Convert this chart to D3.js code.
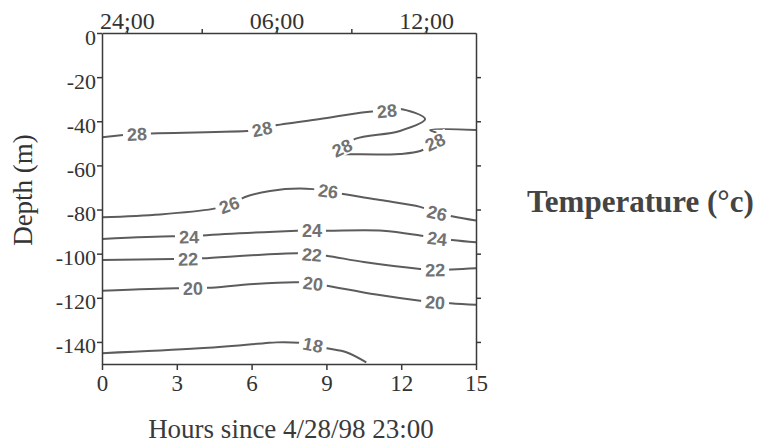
<!DOCTYPE html>
<html><head><meta charset="utf-8">
<script src="https://cdn.jsdelivr.net/npm/d3@7/dist/d3.min.js"></script>
<style>body{margin:0;background:#fff}svg{display:block}</style>
</head><body>
<svg id="chart" width="757" height="448"></svg>
<script>
// ---- data ----
const hourTicks = [0, 3, 6, 9, 12, 15];
const depthTicks = [0, -20, -40, -60, -80, -100, -120, -140];
const clockTickHours = [1, 4, 7, 10, 13];
const clockTickLabels = ["24;00", "", "06;00", "", "12;00"];
const contourLevels = [28, 26, 24, 22, 20, 18];

// contour polylines: [hour, depth]
const contour28 = [[0,-47.3],[1.4,-45.8],[5.94,-44.3],[6.42,-43.5],[6.86,-42.1],[8.74,-39],[10.63,-35.8],[11.43,-35.3],[11.95,-34.4],[12.96,-39],[11.95,-44.4],[10.15,-48],[9.63,-52.1],[9.15,-54.4],[10.35,-55],[11.95,-54.8],[12.76,-53.5],[13.36,-49.4],[13.48,-45.8],[13.16,-44],[15,-44]];
const contour26 = [[0,-83.5],[2.33,-82.2],[4.45,-79.7],[5.1,-77.9],[5.74,-74.3],[6.74,-71.6],[7.94,-70.5],[9.07,-71.6],[9.67,-73],[11.15,-75.7],[12.76,-78.8],[13.44,-81.6],[15,-85]];
const contour24 = [[0,-93.3],[2.85,-92.1],[3.49,-92.4],[4.01,-91.8],[7.82,-89.6],[8.42,-89.4],[8.94,-89.6],[11.27,-89.6],[12.76,-91.8],[13.44,-93.1],[15,-94.8]];
const contour22 = [[0,-102.9],[2.85,-102.4],[3.45,-102.4],[4.05,-102.1],[7.9,-99.8],[8.42,-100.4],[9.0,-100.9],[10.5,-103.8],[12.76,-106.9],[13.36,-107.3],[15,-106.6]];
const contour20 = [[0,-116.8],[3.0,-115.7],[3.65,-115.7],[4.25,-115.5],[6.1,-113.7],[7.9,-113],[8.46,-113.5],[9.02,-114.5],[11.0,-118.5],[12.76,-121.3],[13.36,-122],[15,-123.2]];
const contour18 = [[0,-145.1],[3.9,-142.9],[6.5,-140.6],[7.0,-140.2],[7.9,-140.4],[8.46,-141.3],[9.02,-142.9],[9.8,-144.7],[10.6,-149.3]];
// indices of points in each contour where its label sits
const labels28 = [1, 3, 7, 12, 17];
const labels26 = [3, 7, 11];
const labels24 = [2, 5, 9];
const labels22 = [2, 5, 9];
const labels20 = [2, 6, 10];
const labels18 = [5];

const contours = [
  {level: 28, pts: contour28, labels: labels28},
  {level: 26, pts: contour26, labels: labels26},
  {level: 24, pts: contour24, labels: labels24},
  {level: 22, pts: contour22, labels: labels22},
  {level: 20, pts: contour20, labels: labels20},
  {level: 18, pts: contour18, labels: labels18}
];

// ---- layout ----
const svg = d3.select("#chart");
const x = d3.scaleLinear().domain([0, 15]).range([102, 476]);
const y = d3.scaleLinear().domain([0, -150]).range([33, 364]);
const serif = "'Liberation Serif','Times New Roman',serif";
const axisColor = "#3a3a3a";
const lineColor = "#5c5c5c";

svg.append("rect").attr("width", 757).attr("height", 448).attr("fill", "#fff");

svg.append("clipPath").attr("id", "plotclip").append("rect")
  .attr("x", x(0)).attr("y", y(0)).attr("width", x(15) - x(0)).attr("height", y(-150) - y(0));

const plot = svg.append("g").attr("clip-path", "url(#plotclip)");
const lineGen = d3.line().x(d => x(d[0])).y(d => y(d[1])).curve(d3.curveCatmullRom.alpha(0.5));

contours.forEach(c => {
  plot.append("path").attr("d", lineGen(c.pts))
    .attr("fill", "none").attr("stroke", lineColor).attr("stroke-width", 2)
    .attr("stroke-linejoin", "round");
});
contours.forEach(c => {
  c.labels.forEach(i => {
    const p = c.pts[i], a = c.pts[i - 1], b = c.pts[Math.min(i + 1, c.pts.length - 1)];
    let ang = Math.atan2(y(b[1]) - y(a[1]), x(b[0]) - x(a[0])) * 180 / Math.PI;
    if (ang > 90) ang -= 180;
    if (ang < -90) ang += 180;
    ang = Math.max(-25, Math.min(25, ang));
    const g = plot.append("g").attr("transform", `translate(${x(p[0])},${y(p[1])}) rotate(${ang})`);
    const bg = g.append("rect").attr("fill", "#fff");
    const t = g.append("text").text(c.level)
      .attr("text-anchor", "middle").attr("dy", "0.36em")
      .attr("font-family", "'Liberation Sans',Arial,sans-serif")
      .attr("font-weight", "bold").attr("font-size", 18)
      .attr("fill", "#727272");
    const w = t.node().getComputedTextLength() + 8;
    bg.attr("x", -w / 2).attr("y", -8).attr("width", w).attr("height", 16);
  });
});

// ---- axes ----
function styleAxis(g, fs) {
  g.selectAll("path,line").attr("stroke", axisColor).attr("stroke-width", 1.5);
  g.selectAll("text").attr("font-family", serif).attr("font-size", fs).attr("fill", "#333");
  g.attr("font-family", null).attr("font-size", null);
}
const gl = svg.append("g").attr("transform", `translate(${x(0)},0)`)
  .call(d3.axisLeft(y).tickValues(depthTicks).tickSize(5).tickPadding(1).tickSizeOuter(0).tickFormat(d => String(d)));
styleAxis(gl, 22);
gl.selectAll("text").attr("dy", "0.5em");

const gr = svg.append("g").attr("transform", `translate(${x(15)},0)`)
  .call(d3.axisRight(y).tickValues(depthTicks.slice(1)).tickSize(5).tickSizeOuter(0).tickFormat(""));
styleAxis(gr, 22);

const gb = svg.append("g").attr("transform", `translate(0,${y(-150)})`)
  .call(d3.axisBottom(x).tickValues(hourTicks).tickSize(6).tickPadding(5).tickSizeOuter(0).tickFormat(d => String(d)));
styleAxis(gb, 23);

const gt = svg.append("g").attr("transform", `translate(0,${y(0)})`)
  .call(d3.axisTop(x).tickValues(clockTickHours).tickSize(4).tickPadding(0).tickSizeOuter(0)
    .tickFormat((d, i) => clockTickLabels[i]));
styleAxis(gt, 24);

// ---- titles ----
svg.append("text").text("Hours since 4/28/98 23:00")
  .attr("x", 291).attr("y", 438).attr("text-anchor", "middle")
  .attr("font-family", serif).attr("font-size", 27).attr("fill", "#3a3a3a");

svg.append("text").text("Depth (m)")
  .attr("transform", "translate(32,190) rotate(-90)").attr("text-anchor", "middle")
  .attr("font-family", serif).attr("font-size", 27).attr("fill", "#333");

svg.append("text").text("Temperature (°c)")
  .attr("x", 527).attr("y", 212)
  .attr("font-family", serif).attr("font-weight", "bold").attr("font-size", 31).attr("fill", "#444");
</script>
</body></html>
